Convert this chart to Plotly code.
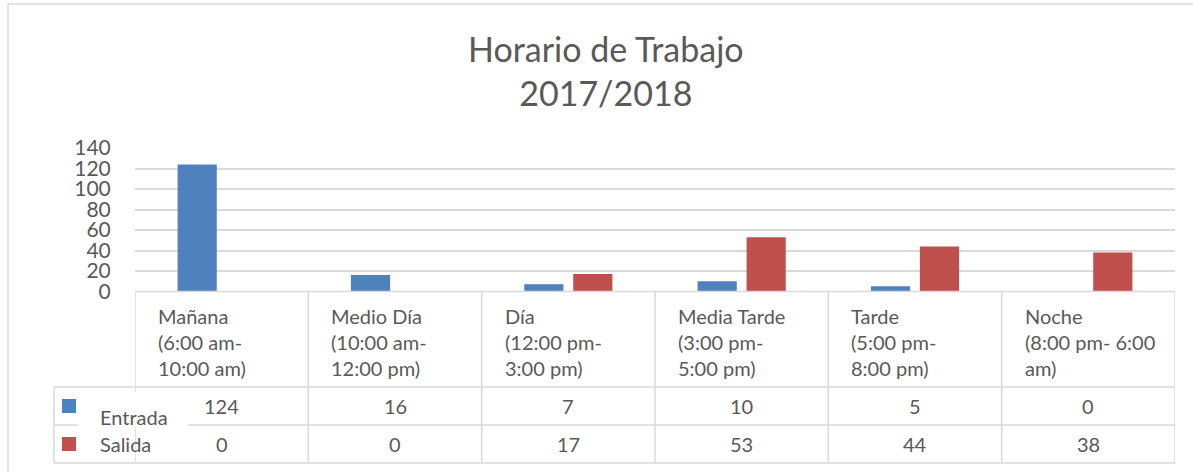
import plotly.graph_objects as go

W, H = 1193, 472

categorias = [
    "Mañana<br>(6:00 am-<br>10:00 am)",
    "Medio Día<br>(10:00 am-<br>12:00 pm)",
    "Día<br>(12:00 pm-<br>3:00 pm)",
    "Media Tarde<br>(3:00 pm-<br>5:00 pm)",
    "Tarde<br>(5:00 pm-<br>8:00 pm)",
    "Noche<br>(8:00 pm- 6:00<br>am)",
]
entrada = [124, 16, 7, 10, 5, 0]
salida = [0, 0, 17, 53, 44, 38]
series = ["Entrada", "Salida"]
colores = ["#4F81BD", "#C0504D"]

FONT = "Lato, 'Noto Sans', sans-serif"
TXT = "#595959"
LINE = "#D9D9D9"


def px_x(x):
    return x / W


def px_y(y):
    return 1 - y / H


idx = list(range(len(categorias)))

fig = go.Figure()
for nombre, vals, c in zip(series, [entrada, salida], colores):
    fig.add_trace(go.Bar(x=idx, y=vals, name=nombre, marker=dict(color=c, line=dict(width=0)),
                         showlegend=False, hoverinfo="y"))

shapes = []
# borde del gráfico
shapes.append(dict(type="line", xref="paper", yref="paper", x0=px_x(8), x1=1, y0=px_y(4), y1=px_y(4),
                   line=dict(color=LINE, width=1.5)))
shapes.append(dict(type="line", xref="paper", yref="paper", x0=px_x(8), x1=px_x(8), y0=px_y(4), y1=0,
                   line=dict(color=LINE, width=1.5)))

# tabla de datos
t_top, r1, r2, r3 = 291.5, 387, 425, 463
for i in range(len(categorias) + 1):
    shapes.append(dict(type="line", xref="x", yref="paper", x0=i - 0.5, x1=i - 0.5,
                       y0=px_y(t_top), y1=px_y(r3), line=dict(color=LINE, width=1.5)))
shapes.append(dict(type="line", xref="paper", yref="paper", x0=px_x(135), x1=px_x(1175),
                   y0=px_y(t_top), y1=px_y(t_top), line=dict(color=LINE, width=1.5)))
for yy in [r1, r2, r3]:
    shapes.append(dict(type="line", xref="paper", yref="paper", x0=px_x(54), x1=px_x(1175),
                       y0=px_y(yy), y1=px_y(yy), line=dict(color=LINE, width=1.5)))
shapes.append(dict(type="line", xref="paper", yref="paper", x0=px_x(54), x1=px_x(54),
                   y0=px_y(r1), y1=px_y(r3), line=dict(color=LINE, width=1.5)))
# caja blanca de la etiqueta "Entrada"
shapes.append(dict(type="rect", xref="paper", yref="paper", x0=px_x(78), x1=px_x(188),
                   y0=px_y(392), y1=px_y(426.5), fillcolor="white", line=dict(width=0)))
# claves de leyenda
for c, (ya, yb) in zip(colores, [(399, 413), (437, 451)]):
    shapes.append(dict(type="rect", xref="paper", yref="paper", x0=px_x(62), x1=px_x(76),
                       y0=px_y(yb), y1=px_y(ya), fillcolor=c, line=dict(width=0)))

ann = []
ann.append(dict(text="Horario de Trabajo<br>2017/2018", xref="paper", yref="paper",
                x=px_x(606), y=px_y(71), xanchor="center", yanchor="middle", showarrow=False,
                font=dict(family=FONT, size=34, color=TXT)))
for i, lab in enumerate(categorias):
    ann.append(dict(text=lab, xref="x", yref="paper", x=i - 0.5, xshift=21, y=px_y(302),
                    xanchor="left", yanchor="top", align="left", showarrow=False,
                    font=dict(family=FONT, size=20, color=TXT)))
    for vals, yc in [(entrada, 406), (salida, 444)]:
        ann.append(dict(text=str(vals[i]), xref="x", yref="paper", x=i, y=px_y(yc),
                        xanchor="center", yanchor="middle", showarrow=False,
                        font=dict(family=FONT, size=20, color=TXT)))
for nombre, yc in zip(series, [417, 444]):
    ann.append(dict(text=nombre, xref="paper", yref="paper", x=px_x(98), y=px_y(yc),
                    xanchor="left", yanchor="middle", showarrow=False,
                    font=dict(family=FONT, size=20, color=TXT)))

fig.update_layout(
    width=W, height=H,
    margin=dict(l=0, r=0, t=0, b=0, pad=0, autoexpand=False),
    paper_bgcolor="white", plot_bgcolor="white",
    barmode="group", bargap=0.435, bargroupgap=0.2,
    xaxis=dict(domain=[px_x(135), px_x(1175)], range=[-0.5, 5.5], showticklabels=False,
               showgrid=False, zeroline=False, showline=False, ticks="", automargin=False),
    yaxis=dict(domain=[px_y(291.5), px_y(148)], range=[0, 140], dtick=20,
               gridcolor=LINE, gridwidth=1.5, zeroline=False, showline=False,
               ticks="outside", ticklen=19, tickcolor="rgba(0,0,0,0)", automargin=False,
               tickfont=dict(family=FONT, size=21, color=TXT)),
    shapes=shapes,
    annotations=ann,
)

fig.write_html("out.html", config={"displayModeBar": False},
               post_script="document.body.style.margin='0';")
